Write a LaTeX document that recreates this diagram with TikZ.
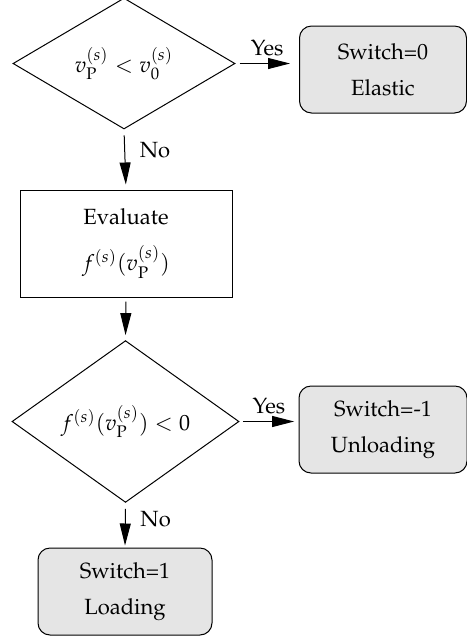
\documentclass[tikz,border=0pt]{standalone}
\usepackage[T1]{fontenc}
\usepackage{mathpazo}
\usepackage{tikz}
\usetikzlibrary{arrows.meta}
\usetikzlibrary{shapes}

\begin{document}
\begin{tikzpicture}[x=0.5pt,y=-0.5pt,
  every node/.style={font=\fontsize{11}{18}\selectfont},
  decision/.style={diamond,draw,line width=0.5pt,inner sep=0pt},
  process/.style={rectangle,draw,line width=0.5pt,align=center},
  state/.style={rectangle,rounded corners=6pt,draw,fill=black!10,line width=0.5pt,align=center,minimum height=43.5pt},
  >={Triangle[length=11pt,width=5.5pt]}]
\useasboundingbox (0,0) rectangle (467,639);
\node (dec1) at (124,63.5) [decision,minimum width=111pt,minimum height=63pt] {$v_{\mathrm{P}}^{(s)} < v_0^{(s)}$};
\node (elastic) at (383,69.5) [state,minimum width=83.5pt] {Switch=0\\Elastic};
\node (eval) at (126,243.5) [process,minimum width=106pt,minimum height=53.5pt] {Evaluate\\[5pt]$f^{(s)}(v_{\mathrm{P}}^{(s)})$};
\node (dec2) at (125.5,421.5) [decision,minimum width=113.5pt,minimum height=65pt] {$f^{(s)}(v_{\mathrm{P}}^{(s)}) < 0$};
\node (unload) at (383,429.5) [state,minimum width=84pt] {Switch=-1\\Unloading};
\node (load) at (125,591.5) [state,minimum width=87pt] {Switch=1\\Loading};
\draw[->, line width=0.5pt, shorten <=2pt, shorten >=4.5pt] (dec1.east) to
node[above] {Yes} (dec1.east -| elastic.west);
\draw[->, line width=0.5pt, shorten <=3pt, shorten >=2.5pt] (dec1.south) to
node[right=4pt,pos=0.35] {No} (eval.north);
\draw[->, line width=0.5pt, shorten <=2pt, shorten >=2.5pt] (eval.south) to (dec2.north);
\draw[->, line width=0.5pt, shorten <=1.7pt, shorten >=2.2pt] (dec2.east) to
node[above] {Yes} (dec2.east -| unload.west);
\draw[->, line width=0.5pt, shorten <=3pt, shorten >=1pt] (dec2.south) to
node[right=4pt,pos=0.37] {No} (load.north);
\end{tikzpicture}
\end{document}
